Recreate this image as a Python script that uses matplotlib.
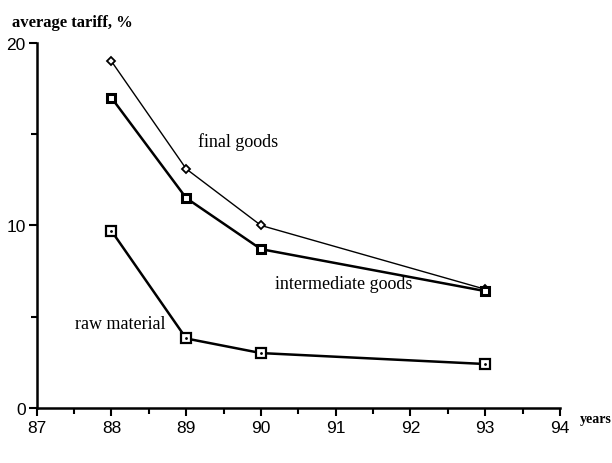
import matplotlib.pyplot as plt
import numpy as np

years = [88, 89, 90, 93]
final_goods = [19.0, 13.1, 10.0, 6.5]
intermediate_goods = [17.0, 11.5, 8.7, 6.4]
raw_material = [9.7, 3.8, 3.0, 2.4]

xticks = [87, 88, 89, 90, 91, 92, 93, 94]
yticks = [0, 10, 20]

fig = plt.figure(figsize=(6.12, 4.64), dpi=100)
ax = fig.add_axes([0.060, 0.119, 0.855, 0.786])

# the three series
ax.plot(years, final_goods, color='black', lw=1.0, marker='D', ms=4.5,
        mfc='white', mec='black', mew=1.3, clip_on=False)
ax.plot(years, intermediate_goods, color='black', lw=1.8, marker='s', ms=6,
        mfc='white', mec='black', mew=2.2, clip_on=False)
ax.plot(years, raw_material, color='black', lw=1.8, marker='s', ms=6.5,
        mfc='white', mec='black', mew=1.6, clip_on=False)
ax.plot(years, raw_material, ls='none', marker='.', ms=2, color='black')

ax.set_xlim(87, 94)
ax.set_ylim(0, 20)

for s in ['top', 'right']:
    ax.spines[s].set_visible(False)
for s in ['left', 'bottom']:
    ax.spines[s].set_linewidth(1.8)

ax.set_xticks(xticks)
ax.set_xticks(np.arange(87.5, 94, 1.0), minor=True)
ax.set_yticks(yticks)
ax.set_yticks([5, 15], minor=True)
ax.tick_params(axis='both', which='major', direction='out', length=6,
               width=1.5, labelsize=12.5)
ax.tick_params(axis='both', which='minor', direction='out', length=4,
               width=1.5)
ax.tick_params(axis='x', pad=3)
ax.tick_params(axis='y', pad=2)
for lab in ax.get_xticklabels() + ax.get_yticklabels():
    lab.set_family(['Liberation Sans', 'DejaVu Sans'])

serif = ['Liberation Serif', 'DejaVu Serif']
fig.text(0.020, 0.950, 'average tariff, %', family=serif, fontsize=12,
         fontweight='bold', ha='left', va='center')
fig.text(0.948, 0.095, 'years', family=serif, fontsize=10,
         fontweight='bold', ha='left', va='center')

ax.text(89.16, 14.6, 'final goods', family=serif, fontsize=13,
        ha='left', va='center')
ax.text(90.19, 6.8, 'intermediate goods', family=serif, fontsize=13,
        ha='left', va='center')
ax.text(87.51, 4.6, 'raw material', family=serif, fontsize=13,
        ha='left', va='center')

fig.savefig('out.png', dpi=100)
